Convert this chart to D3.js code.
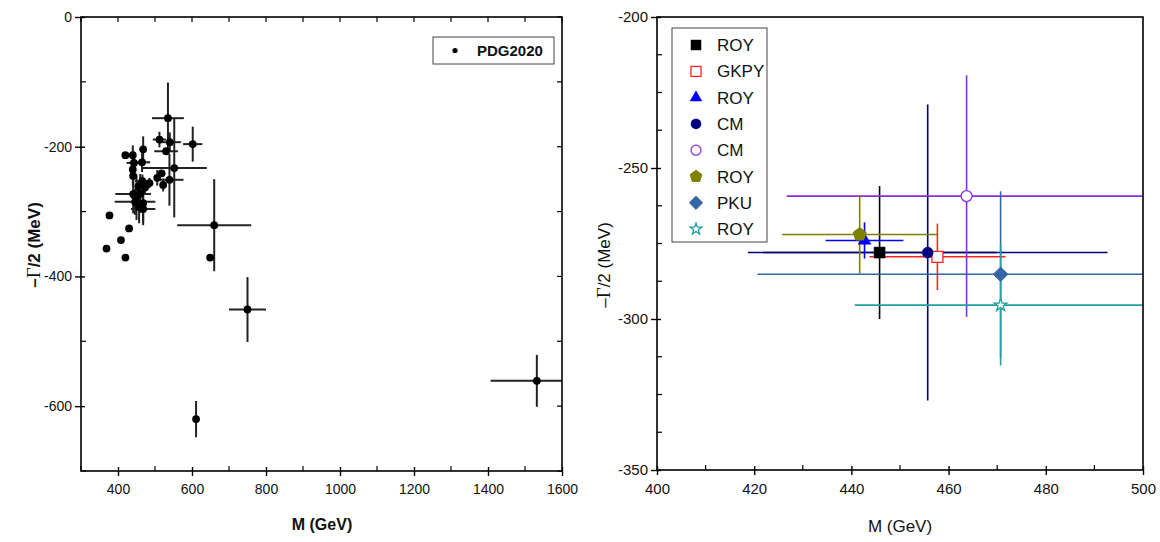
<!DOCTYPE html>
<html><head><meta charset="utf-8">
<script src="https://cdn.jsdelivr.net/npm/d3@7"></script>
<style>body{margin:0;background:#fff}svg{display:block}text{font-family:"Liberation Sans",Arial,sans-serif}</style>
</head><body><svg id="c" width="1160" height="542"></svg>
<script>
// ---------- Left panel data (PDG2020) ----------
const pdgM    = [535, 512, 540, 552, 602, 530, 660, 649, 750, 377, 430, 408, 369, 420, 420, 440, 468, 443, 465, 440, 441, 518, 506, 539, 522, 485, 473, 455, 441, 450, 460, 446, 468, 457, 468, 466, 611, 1532];
const pdgG    = [-156, -189, -193, -233, -196, -207, -321, -371, -451, -306, -326, -344, -357, -371, -213, -213, -204, -225, -224, -235, -245, -241, -248, -251, -259, -256, -263, -261, -273, -278, -272, -285, -287, -293, -296, -253, -620, -561];
const pdgMerr = [43, 18, 30, 88, 26, 32, 100, 0, 50, 0, 0, 0, 0, 0, 0, 5, 5, 20, 22, 5, 5, 0, 5, 38, 5, 10, 5, 5, 48, 15, 10, 55, 10, 12, 33, 20, 7, 125];
const pdgGerr = [55, 12, 15, 76, 27, 0, 71, 0, 50, 0, 0, 0, 0, 0, 0, 15, 20, 12, 15, 25, 18, 0, 12, 40, 10, 8, 10, 10, 30, 35, 30, 20, 30, 25, 25, 10, 28, 40];
const leftXTicks = [400, 600, 800, 1000, 1200, 1400, 1600];
const leftYTicks = [0, -200, -400, -600];

// ---------- Right panel data ----------
const labels   = ["ROY", "GKPY", "ROY", "CM", "CM", "ROY", "PKU", "ROY"];
const mass     = [445.8, 457.7, 442.7, 455.7, 463.7, 441.7, 470.7, 470.7];
const gamma    = [-278, -279.4, -274, -278, -259.3, -272, -285.2, -295.4];
const massErr  = [24, 14, 8, 37, 37, 16, 50, 30];
const gammaErr = [22, 11, 6, 49, 40, 13, 27.5, 20];
const colors   = ["#000000", "#ff2020", "#0000ff", "#000080", "#8a2be2", "#808000", "#3465a4", "#20a0a0"];
const shapes   = ["squareF", "squareO", "triangle", "circleF", "circleO", "pentagon", "diamond", "star"];
const rightXTicks = [400, 420, 440, 460, 480, 500];
const rightYTicks = [-200, -250, -300, -350];

const svg = d3.select("#c");
const defs = svg.append("defs");
const fmt = d => String(d);

function boxAxes(g, x, y, xt, xminor, yt, yminor, opts) {
  const [x0, x1] = x.range(), [y0, y1] = y.range(); // y0 bottom
  g.append("g").attr("transform", `translate(0,${y0})`)
    .call(d3.axisBottom(x).tickValues(xt).tickSize(5).tickPadding(5).tickFormat(fmt))
    .call(a => a.select(".domain").remove())
    .call(a => a.selectAll("line").attr("y1", -4).attr("stroke", "#000").attr("stroke-width", 1.4))
    .call(a => a.selectAll("text").attr("font-size", opts.fs).attr("fill", "#111").attr("dy", "0.9em"));
  g.append("g").selectAll("line").data(xminor).join("line")
    .attr("x1", d => x(d)).attr("x2", d => x(d)).attr("y1", y0).attr("y2", y0 - 5)
    .attr("stroke", "#000").attr("stroke-width", 1.2);
  g.append("g").attr("transform", `translate(${x0},0)`)
    .call(d3.axisLeft(y).tickValues(yt).tickSize(6).tickPadding(3).tickFormat(fmt))
    .call(a => a.select(".domain").remove())
    .call(a => a.selectAll("line").attr("x1", 4).attr("stroke", "#000").attr("stroke-width", 1.4))
    .call(a => a.selectAll("text").attr("font-size", opts.fs).attr("fill", "#111"));
  g.append("g").selectAll("line").data(yminor).join("line")
    .attr("x1", x0).attr("x2", x0 + 5).attr("y1", d => y(d)).attr("y2", d => y(d))
    .attr("stroke", "#000").attr("stroke-width", 1.2);
  if (opts.mirror) {
    g.append("g").selectAll("line").data(xt.concat(xminor)).join("line")
      .attr("x1", d => x(d)).attr("x2", d => x(d)).attr("y1", y1).attr("y2", y1 + 5)
      .attr("stroke", "#000").attr("stroke-width", 1.2);
    g.append("g").selectAll("line").data(yt.concat(yminor)).join("line")
      .attr("x1", x1).attr("x2", x1 - 5).attr("y1", d => y(d)).attr("y2", d => y(d))
      .attr("stroke", "#000").attr("stroke-width", 1.2);
  }
  g.append("rect").attr("x", x0).attr("y", y1).attr("width", x1 - x0).attr("height", y0 - y1)
    .attr("fill", "none").attr("stroke", "#000").attr("stroke-width", 1.6);
}

// ================= LEFT PANEL =================
const xL = d3.scaleLinear().domain([300, 1600]).range([81, 562]);
const yL = d3.scaleLinear().domain([-700, 0]).range([471, 17]);
defs.append("clipPath").attr("id", "clipL").append("rect")
  .attr("x", 81).attr("y", 17).attr("width", 481).attr("height", 454);
const gL = svg.append("g");
const pdg = pdgM.map((m, i) => ({m, g: pdgG[i], me: pdgMerr[i], ge: pdgGerr[i]}));
const eb = gL.append("g").attr("stroke", "#222").attr("stroke-width", 2).attr("clip-path", "url(#clipL)");
pdg.forEach(d => {
  if (d.me > 0) eb.append("line").attr("x1", xL(d.m - d.me)).attr("x2", xL(d.m + d.me)).attr("y1", yL(d.g)).attr("y2", yL(d.g));
  if (d.ge > 0) eb.append("line").attr("x1", xL(d.m)).attr("x2", xL(d.m)).attr("y1", yL(d.g - d.ge)).attr("y2", yL(d.g + d.ge));
});
gL.append("g").selectAll("circle").data(pdg).join("circle")
  .attr("cx", d => xL(d.m)).attr("cy", d => yL(d.g)).attr("r", 3.9).attr("fill", "#000");
boxAxes(gL, xL, yL, leftXTicks, [300, 500, 700, 900, 1100, 1300, 1500], leftYTicks, [-100, -300, -500, -700], {fs: 14, mirror: true});
// legend
gL.append("rect").attr("x", 433).attr("y", 37).attr("width", 121).attr("height", 27).attr("fill", "#fff").attr("stroke", "#444").attr("stroke-width", 1);
gL.append("circle").attr("cx", 455).attr("cy", 50.5).attr("r", 2.6).attr("fill", "#000");
gL.append("text").attr("x", 477).attr("y", 56).attr("font-size", 15).attr("font-weight", "bold").attr("fill", "#111").text("PDG2020");
// axis titles
gL.append("text").attr("x", 322).attr("y", 530).attr("text-anchor", "middle").attr("font-size", 16).attr("font-weight", "bold").attr("fill", "#111").text("M (GeV)");
const tL = gL.append("text").attr("transform", "translate(40,245) rotate(-90)").attr("text-anchor", "middle").attr("font-size", 17).attr("font-weight", "bold").attr("fill", "#111");
tL.append("tspan").text("–");
tL.append("tspan").attr("font-family", "'Liberation Serif','DejaVu Serif',serif").attr("font-weight", "normal").attr("font-size", 19).text("Γ");
tL.append("tspan").text("/2 (MeV)");

// ================= RIGHT PANEL =================
const xR = d3.scaleLinear().domain([400, 500]).range([657, 1143]);
const yR = d3.scaleLinear().domain([-350, -200]).range([470, 17]);
const gR = svg.append("g");
defs.append("clipPath").attr("id", "clipR").append("rect")
  .attr("x", 657).attr("y", 17).attr("width", 486).attr("height", 453);
const pts = mass.map((m, i) => ({m, g: gamma[i], me: massErr[i], ge: gammaErr[i], c: colors[i], s: shapes[i], l: labels[i]}));
const ebR = gR.append("g").attr("clip-path", "url(#clipR)");
pts.forEach(d => {
  ebR.append("line").attr("x1", xR(d.m - d.me)).attr("x2", xR(d.m + d.me)).attr("y1", yR(d.g)).attr("y2", yR(d.g)).attr("stroke", d.c).attr("stroke-width", 1.6);
  ebR.append("line").attr("x1", xR(d.m)).attr("x2", xR(d.m)).attr("y1", yR(d.g - d.ge)).attr("y2", yR(d.g + d.ge)).attr("stroke", d.c).attr("stroke-width", 1.6);
});
function marker(sel, s, c, S) {
  if (s === "pentagon" || s === "diamond") {
    const n = s === "pentagon" ? 5 : 4;
    const r = s === "pentagon" ? S * 0.62 : S * 0.66;
    const p = d3.range(n).map(k => { const a = -Math.PI / 2 + k * 2 * Math.PI / n; return [r * Math.cos(a), r * Math.sin(a)]; });
    sel.append("path").attr("d", "M" + p.join("L") + "Z").attr("fill", c).attr("stroke", c);
    return;
  }
  const symMap = {
    squareF: [d3.symbolSquare, true], squareO: [d3.symbolSquare, false],
    triangle: [d3.symbolTriangle, true], circleF: [d3.symbolCircle, true], circleO: [d3.symbolCircle, false],
    star: [d3.symbolStar, false]
  };
  const [t, filled] = symMap[s];
  let area = S * S;
  if (s === "circleF" || s === "circleO") area = Math.PI * (S / 2) * (S / 2);
  if (s === "triangle") area = S * S * 0.6;
  if (s === "star") area = S * S * 0.42;
  sel.append("path").attr("d", d3.symbol().type(t).size(area)())
    .attr("fill", filled ? c : "#fff").attr("stroke", c).attr("stroke-width", filled ? 0.5 : 1.3);
}
pts.forEach(d => {
  const g = gR.append("g").attr("transform", `translate(${xR(d.m)},${yR(d.g)})`);
  marker(g, d.s, d.c, 11);
});
boxAxes(gR, xR, yR, rightXTicks, [410, 430, 450, 470, 490], rightYTicks,
  [-212.5, -225, -237.5, -262.5, -275, -287.5, -312.5, -325, -337.5], {fs: 15, mirror: false});
// legend
gR.append("rect").attr("x", 672).attr("y", 28).attr("width", 95).attr("height", 214).attr("fill", "#fff").attr("stroke", "#444").attr("stroke-width", 1);
pts.forEach((d, i) => {
  const yy = 45 + i * 26.3;
  const g = gR.append("g").attr("transform", `translate(696,${yy})`);
  marker(g, d.s, d.c, 10);
  gR.append("text").attr("x", 717).attr("y", yy + 6).attr("font-size", 17).attr("fill", "#111").text(d.l);
});
gR.append("text").attr("x", 900).attr("y", 532).attr("text-anchor", "middle").attr("font-size", 17).attr("fill", "#111").text("M (GeV)");
const tR = gR.append("text").attr("transform", "translate(610,265) rotate(-90)").attr("text-anchor", "middle").attr("font-size", 17).attr("fill", "#111");
tR.append("tspan").text("–");
tR.append("tspan").attr("font-family", "'Liberation Serif','DejaVu Serif',serif").attr("font-size", 19).text("Γ");
tR.append("tspan").text("/2 (MeV)");
</script></body></html>
